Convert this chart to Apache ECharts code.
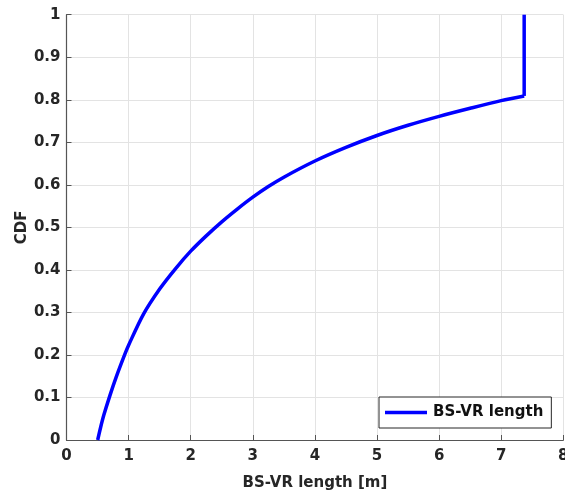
<!DOCTYPE html>
<html><head><meta charset="utf-8">
<script src="https://cdn.jsdelivr.net/npm/echarts@6/dist/echarts.min.js"></script>
<style>html,body{margin:0;padding:0;background:#fff}#c{width:565px;height:494px}</style>
</head><body><div id="c"></div>
<script>
var seriesName = 'BS-VR length';
var xValues = [0.502, 0.55, 0.6, 0.7, 0.8, 0.94, 1.0, 1.24, 1.5, 1.75, 2.0, 2.25, 2.5, 2.75, 3.0, 3.25, 3.5, 4.0, 4.5, 5.0, 5.5, 6.0, 6.5, 7.0, 7.37];
var cdfValues = [0.0, 0.03, 0.058, 0.105, 0.148, 0.202, 0.223, 0.296, 0.355, 0.402, 0.444, 0.48, 0.513, 0.543, 0.571, 0.596, 0.618, 0.656, 0.688, 0.716, 0.740, 0.761, 0.780, 0.798, 0.809];
var jumpX = [7.37, 7.37];
var jumpCdf = [0.809, 1.0];
var xTicks = [0,1,2,3,4,5,6,7,8];
var yTicks = [0,0.1,0.2,0.3,0.4,0.5,0.6,0.7,0.8,0.9,1];

var curve = xValues.map(function(x,i){return [x, cdfValues[i]];});
var jump = jumpX.map(function(x,i){return [x, jumpCdf[i]];});
var font = 'DejaVu Sans, sans-serif';
var chart = echarts.init(document.getElementById('c'), null, {renderer:'canvas'});
chart.setOption({
  animation: false,
  grid: {left: 66.5, right: 1.7, top: 14.7, bottom: 54, containLabel: false, outerBoundsMode: 'none'},
  xAxis: {
    type: 'value', min: xTicks[0], max: xTicks[xTicks.length-1], interval: 1,
    name: 'BS-VR length [m]', nameLocation: 'middle', nameGap: 36,
    nameTextStyle: {fontFamily: font, fontWeight: 'bold', fontSize: 15, color: '#262626'},
    axisLine: {show: true, lineStyle: {color: '#555', width: 1.2}},
    axisTick: {show: true, inside: true, length: 5, lineStyle: {color: '#555'}},
    axisLabel: {fontFamily: font, fontWeight: 'bold', fontSize: 15, color: '#262626', margin: 9},
    splitLine: {show: true, lineStyle: {color: '#e3e3e3', width: 1}}
  },
  yAxis: {
    type: 'value', min: yTicks[0], max: yTicks[yTicks.length-1], interval: 0.1,
    name: 'CDF', nameLocation: 'middle', nameGap: 37, nameRotate: 90, nameMoveOverlap: false,
    nameTextStyle: {fontFamily: font, fontWeight: 'bold', fontSize: 15, color: '#262626'},
    axisLine: {show: true, lineStyle: {color: '#555', width: 1.2}},
    axisTick: {show: true, inside: true, length: 5, lineStyle: {color: '#555'}},
    axisLabel: {fontFamily: font, fontWeight: 'bold', fontSize: 15, color: '#262626', margin: 6,
      formatter: function(v){return String(Math.round(v*10)/10);}},
    splitLine: {show: true, lineStyle: {color: '#e3e3e3', width: 1}}
  },
  legend: {
    data: [{name: seriesName, icon: 'rect'}],
    left: 379, top: 397,
    itemWidth: 42, itemHeight: 3.5, itemGap: 6,
    padding: [8, 8, 8, 6],
    backgroundColor: '#fff', borderColor: '#262626', borderWidth: 1, borderRadius: 0,
    textStyle: {fontFamily: font, fontWeight: 'bold', fontSize: 15, color: '#111', padding: [0,0,0,1]}
  },
  series: [{
    name: seriesName, type: 'line', data: curve, showSymbol: false, smooth: 0.3,
    lineStyle: {color: '#0000ff', width: 3.5}, itemStyle: {color: '#0000ff'}, clip: false
  }, {
    name: seriesName, type: 'line', data: jump, showSymbol: false,
    lineStyle: {color: '#0000ff', width: 3.5}, itemStyle: {color: '#0000ff'}, clip: false
  }]
});
</script></body></html>
